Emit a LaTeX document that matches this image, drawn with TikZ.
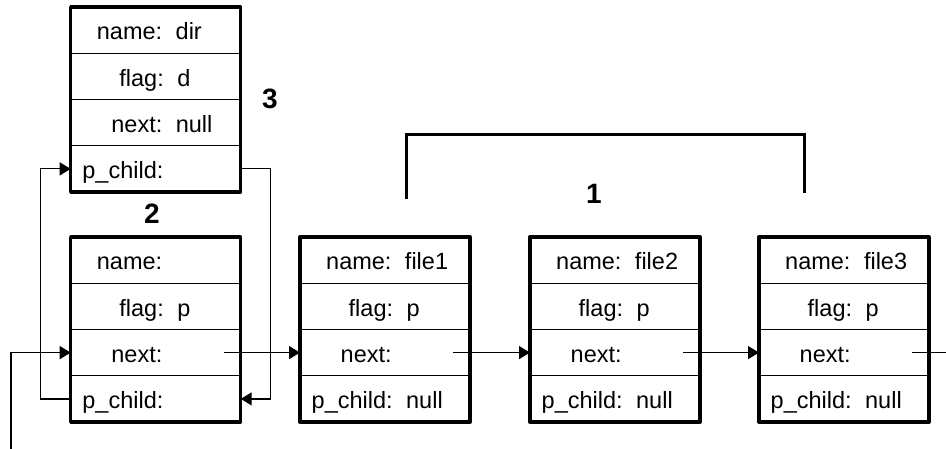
\documentclass[tikz,border=0pt]{standalone}
\usepackage{fontspec}
\setmainfont{Liberation Sans}
\usetikzlibrary{calc,arrows.meta}

\tikzset{
  recbox/.style={draw, line width=3.3pt, rectangle, minimum width=170pt,
    minimum height=185pt, inner sep=0pt, outer sep=0pt, line join=round},
  rowsep/.style={line width=1.2pt},
  field/.style={inner sep=0pt, anchor=base west, font=\fontsize{23.5}{28}\selectfont},
  link/.style={line width=1.2pt, -{Triangle[length=11pt,width=13pt]}},
  plain/.style={line width=1.2pt},
  group/.style={line width=3pt},
  tag/.style={font=\fontsize{28}{32}\selectfont\bfseries, inner sep=0pt},
}

\newcommand\fgap{\hspace{13.5pt}}

% a record box: name, left, top, then its four fields
\newcommand\recbox[7]{%
  \node[recbox] (#1) at (#2+85,#3+92.5) {};
  \foreach \k in {1,2,3}
    \draw[rowsep] ($(#1.north west)+(0,\k*46.25)$) -- ($(#1.north east)+(0,\k*46.25)$);
  \node[field] (#1-name)   at ($(#1.north west)+(26,33)$)      {#4};
  \node[field] (#1-flag)   at ($(#1.north west)+(48.5,79.25)$) {#5};
  \node[field] (#1-next)   at ($(#1.north west)+(40.5,125.5)$) {#6};
  \node[field] (#1-pchild) at ($(#1.north west)+(11.5,171.75)$) {#7};
  \coordinate (#1-nextw) at ($(#1.north west)+(0,115.6)$);
  \coordinate (#1-ptr)   at ($(#1.north west)+(153,115.6)$);
  \coordinate (#1-pcw)   at ($(#1.north west)+(0,161.9)$);
  \coordinate (#1-pce)   at ($(#1.north east)+(0,161.9)$);
}

\begin{document}
\begin{tikzpicture}[x=1pt,y=-1pt]
  \useasboundingbox (0,0) rectangle (946,449);

  \recbox{dir}{70.7}{7}{name:\fgap dir}{flag:\fgap d}{next:\fgap null}{p\_child:}
  \recbox{head}{70.7}{237}{name:}{flag:\fgap p}{next:}{p\_child:}
  \recbox{fa}{300}{237}{name:\fgap file1}{flag:\fgap p}{next:}{p\_child:\fgap null}
  \recbox{fb}{530}{237}{name:\fgap file2}{flag:\fgap p}{next:}{p\_child:\fgap null}
  \recbox{fc}{759}{237}{name:\fgap file3}{flag:\fgap p}{next:}{p\_child:\fgap null}

  % labels
  \node[tag] (t3) at (270,99) {3};
  \node[tag] (t2) at (152,213.5) {2};
  \node[tag] (t1) at (594,194) {1};

  % bracket over the file list
  \coordinate (grpL) at (406.7,199);
  \coordinate (grpR) at (804,193);
  \coordinate (grpTop) at (0,135);
  \draw[group] (grpL) -- (grpL |- grpTop) -- (grpR |- grpTop) -- (grpR);

  % next chain
  \coordinate (entry) at (11,449);
  \draw[link] (entry) |- (head-nextw);
  \draw[link] (head-ptr) -- (fa-nextw);
  \draw[link] (fa-ptr) -- (fb-nextw);
  \draw[link] (fb-ptr) -- (fc-nextw);
  \coordinate (tail) at ($(fc-ptr)+(36,0)$);
  \draw[plain] (fc-ptr) -- (tail);

  % child pointers between the two upper-left records
  \draw[link] (head-pcw) -- ++(-30,0) |- (dir-pcw);
  \draw[link] (dir-pce) -- ++(30,0) |- (head-pce);
\end{tikzpicture}
\end{document}
